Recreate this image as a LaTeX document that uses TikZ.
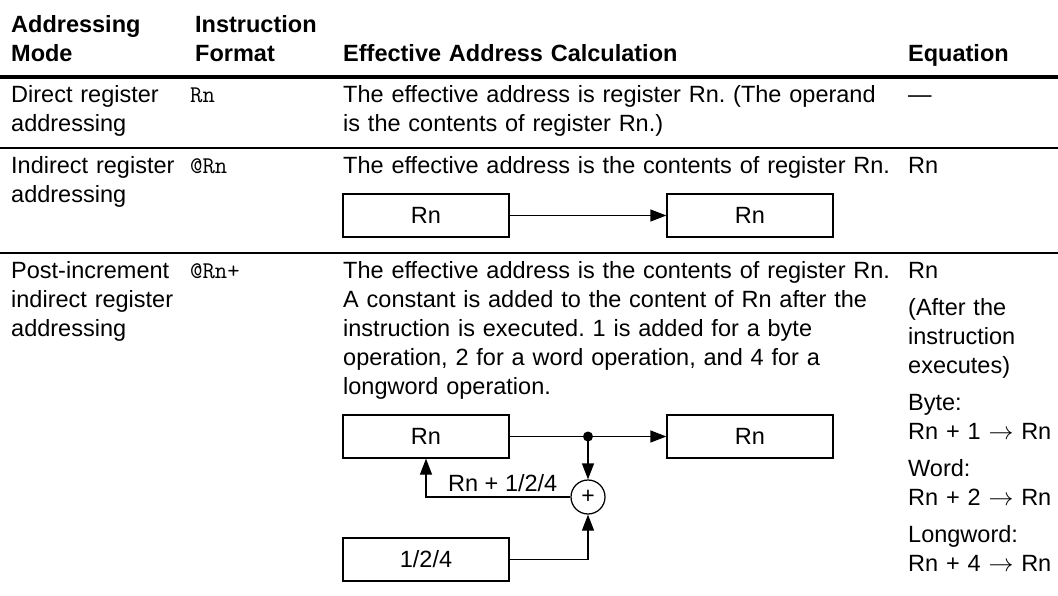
\documentclass[tikz,border=0pt]{standalone}
\usepackage{fontspec}
\setmainfont{Liberation Sans}
\usetikzlibrary{arrows.meta}
\frenchspacing

\begin{document}
\begin{tikzpicture}[x=1pt,y=-1pt,
  cell/.style={anchor=base west, inner sep=0pt, align=left,
    font=\fontsize{23.5}{29}\selectfont},
  head/.style={cell, font=\fontsize{23.5}{29}\selectfont\bfseries},
  code/.style={anchor=base west, inner sep=0pt,
    font=\fontsize{24}{29}\selectfont\ttfamily},
  reg/.style={draw, line width=1.25pt, minimum width=166pt, minimum height=43pt,
    inner sep=0pt, font=\fontsize{23.5}{29}\selectfont},
  arr/.style={line width=1.25pt, -{Triangle[length=16pt,width=12pt]}},
  wire/.style={line width=1.25pt},
  thinrule/.style={line width=1.3pt},
  thickrule/.style={line width=3.5pt}]

\useasboundingbox (0,0) rectangle (1058,596);
\fill[white] (0,0) rectangle (1058,596);

% header
\node[head, text width=176pt] (h1) at (11,33) {Addressing\\Mode};
\node[head, text width=140pt] (h2) at (195,33) {Instruction\\Format};
\node[head, text width=500pt] (h3) at (343,62) {Effective Address Calculation};
\node[head, text width=140pt] (h4) at (908,62) {Equation};
\draw[thickrule] (0,77) -- (1058,77);

% row 1: direct register addressing
\node[cell, text width=176pt] (m1) at (11,103) {Direct register\\addressing};
\node[code] (f1) at (190,103) {Rn};
\node[cell, text width=560pt] (d1) at (343,103)
  {The effective address is register Rn. (The operand\\is the contents of register Rn.)};
\node[cell, text width=140pt] (e1) at (908,103) {—};
\draw[thinrule] (0,148) -- (1058,148);

% row 2: indirect register addressing
\node[cell, text width=176pt] (m2) at (11,174) {Indirect register\\addressing};
\node[code] (f2) at (190,174) {@Rn};
\node[cell, text width=560pt] (d2) at (343,174)
  {The effective address is the contents of register Rn.};
\node[cell, text width=140pt] (e2) at (908,174) {Rn};
\node[reg] (r2a) at (426,215.5) {Rn};
\node[reg] (r2b) at (750,215.5) {Rn};
\draw[arr] (r2a.east) -- (r2b.west);
\draw[thinrule] (0,253) -- (1058,253);

% row 3: post-increment indirect register addressing
\node[cell, text width=176pt] (m3) at (11,279)
  {Post-increment\\indirect register\\addressing};
\node[code] (f3) at (190,279) {@Rn+};
\node[cell, text width=560pt] (d3) at (343,279)
  {The effective address is the contents of register Rn.\\
   A constant is added to the content of Rn after the\\
   instruction is executed. 1 is added for a byte\\
   operation, 2 for a word operation, and 4 for a\\
   longword operation.};
\node[cell, text width=150pt] (e3) at (908,279)
  {Rn\\[8pt]
   (After the\\instruction\\executes)\\[8pt]
   Byte:\\Rn + 1 \(\rightarrow\) Rn\\[8pt]
   Word:\\Rn + 2 \(\rightarrow\) Rn\\[8pt]
   Longword:\\Rn + 4 \(\rightarrow\) Rn};

\node[reg] (r3a) at (426,436.5) {Rn};
\node[reg] (r3b) at (750,436.5) {Rn};
\node[reg] (k3) at (426,559.5) {1/2/4};
\node[circle, draw, line width=1.25pt, minimum size=34pt, inner sep=0pt,
  font=\fontsize{23}{24}\selectfont] (sum) at (588,497) {+};
\coordinate (tap) at (588,436.5);

\draw[wire] (r3a.east) -- (tap);
\draw[arr] (tap) -- (r3b.west);
\draw[arr] (tap) -- (sum.north);
\draw[arr] (sum.west) -| (r3a.south);
\draw[arr] (k3.east) -| (sum.south);
\fill (tap) circle (5pt);
\node[cell] (lbl) at (448,491) {Rn + 1/2/4};

\end{tikzpicture}
\end{document}
